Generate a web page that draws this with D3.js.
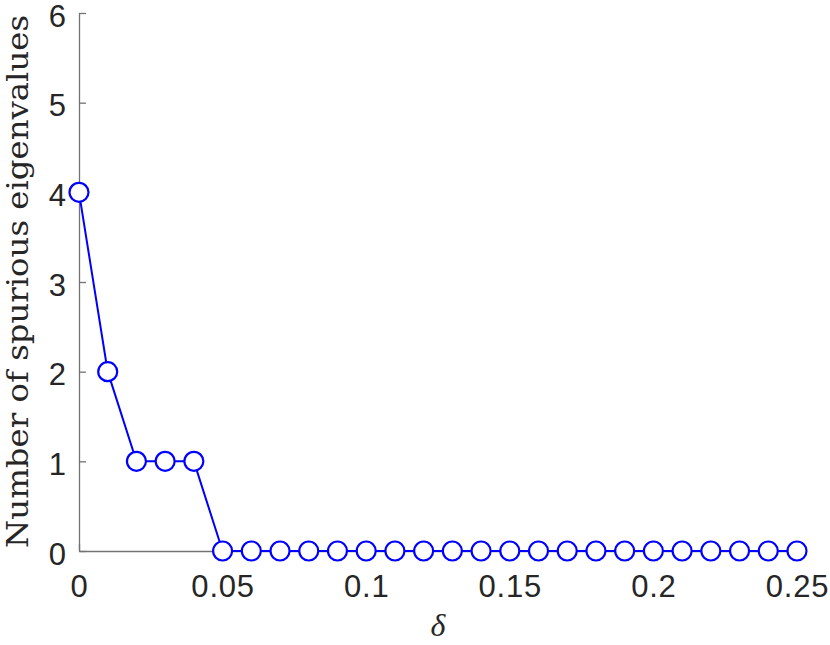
<!DOCTYPE html>
<html>
<head>
<meta charset="utf-8">
<script src="https://cdn.jsdelivr.net/npm/d3@7"></script>
<style>
html,body{margin:0;padding:0;background:#fff;}
svg{display:block;}
</style>
</head>
<body>
<script>
const deltas = [0,0.01,0.02,0.03,0.04,0.05,0.06,0.07,0.08,0.09,0.10,0.11,0.12,0.13,0.14,0.15,0.16,0.17,0.18,0.19,0.20,0.21,0.22,0.23,0.24,0.25];
const counts = [4,2,1,1,1,0,0,0,0,0,0,0,0,0,0,0,0,0,0,0,0,0,0,0,0,0];
const xTicks = [0,0.05,0.1,0.15,0.2,0.25];
const xTickLabels = ["0","0.05","0.1","0.15","0.2","0.25"];
const yTicks = [0,1,2,3,4,5,6];
const yLabel = "Number of spurious eigenvalues";
const xLabel = "δ";

const W = 830, H = 645;
const mLeft = 79, mRight = 797, mTop = 13, mBottom = 551;

const svg = d3.select("body").append("svg").attr("width", W).attr("height", H);

const x = d3.scaleLinear().domain([0, 0.25]).range([mLeft, mRight]);
const y = d3.scaleLinear().domain([0, 6]).range([mBottom, mTop]);

const axisColor = "#737373";
const textColor = "#262626";
const font = "'Liberation Sans', Arial, Helvetica, sans-serif";

// x axis (ticks inward)
const gx = svg.append("g").attr("transform", `translate(0,${mBottom})`)
  .call(d3.axisBottom(x).tickValues(xTicks).tickSizeInner(-7).tickSizeOuter(0)
    .tickFormat((d,i) => xTickLabels[i]));
gx.select(".domain").attr("stroke", axisColor).attr("stroke-width", 1.3);
gx.selectAll(".tick line").attr("stroke", axisColor).attr("stroke-width", 1.3);
gx.selectAll(".tick text").attr("fill", textColor).attr("font-family", font)
  .attr("font-size", 31).attr("letter-spacing", "0.8px")
  .attr("y", 24).attr("dy", "0.71em");

// y axis (ticks inward)
const gy = svg.append("g").attr("transform", `translate(${mLeft},0)`)
  .call(d3.axisLeft(y).tickValues(yTicks).tickSizeInner(-7).tickSizeOuter(0)
    .tickFormat(d3.format("d")));
gy.select(".domain").attr("stroke", axisColor).attr("stroke-width", 1.3);
gy.selectAll(".tick line").attr("stroke", axisColor).attr("stroke-width", 1.3);
gy.selectAll(".tick text").attr("fill", textColor).attr("font-family", font)
  .attr("font-size", 31).attr("x", -13).attr("dy", "0.42em");

// line
const line = d3.line().x((d,i) => x(deltas[i])).y(d => y(d));
svg.append("path").datum(counts)
  .attr("fill", "none").attr("stroke", "#0000ff").attr("stroke-width", 2)
  .attr("d", line);

// markers
svg.append("g").selectAll("circle").data(counts).join("circle")
  .attr("cx", (d,i) => x(deltas[i])).attr("cy", d => y(d))
  .attr("r", 9.5).attr("fill", "#fff").attr("stroke", "#0000ff").attr("stroke-width", 2.2);

// y label
svg.append("text")
  .attr("transform", `translate(28,${(15+548)/2}) rotate(-90)`)
  .attr("text-anchor", "middle")
  .attr("font-family", "'DejaVu Serif', 'Liberation Serif', serif")
  .attr("font-size", 29)
  .attr("fill", textColor)
  .attr("textLength", 533).attr("lengthAdjust", "spacingAndGlyphs")
  .text(yLabel);

// x label
svg.append("text")
  .attr("x", (mLeft+mRight)/2).attr("y", 636)
  .attr("text-anchor", "middle")
  .attr("font-family", "'Liberation Serif', 'DejaVu Serif', serif")
  .attr("font-style", "italic")
  .attr("font-size", 32)
  .attr("fill", textColor)
  .text(xLabel);
</script>
</body>
</html>
